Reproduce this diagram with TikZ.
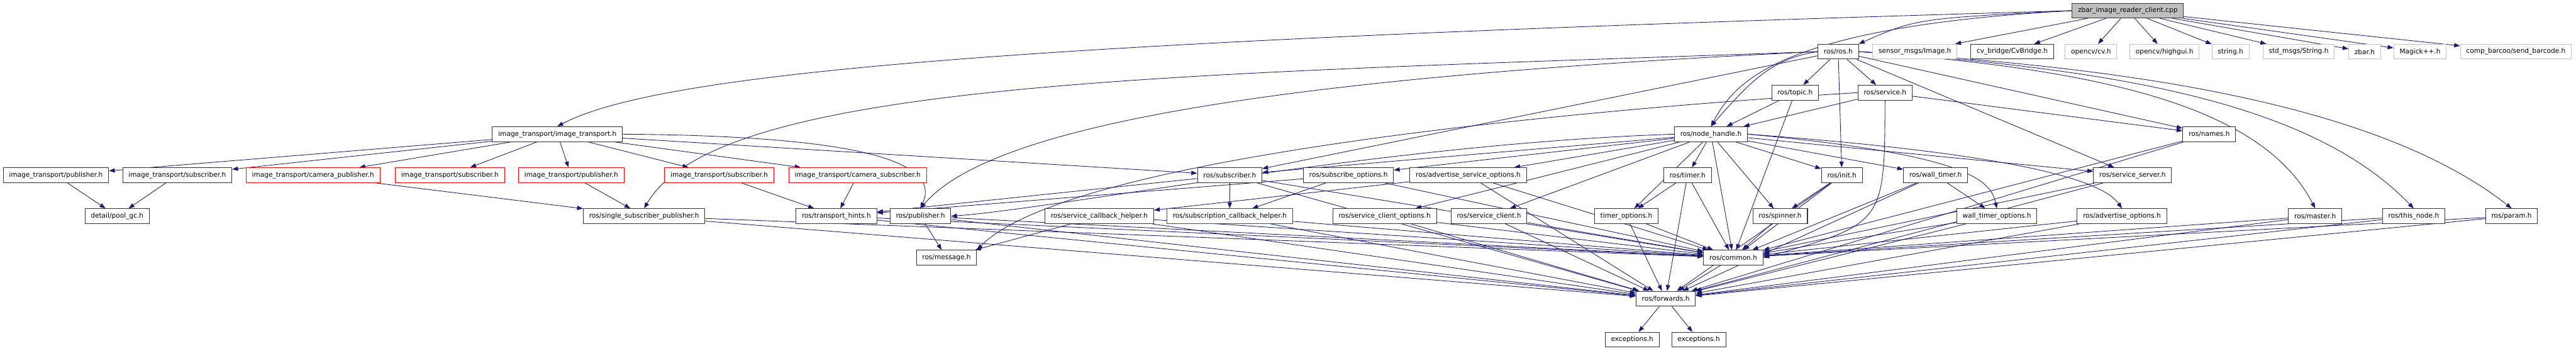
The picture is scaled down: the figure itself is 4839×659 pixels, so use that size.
\documentclass[tikz,border=0pt]{standalone}
\usepackage{fontspec}
\setmainfont{DejaVu Sans}
\usepackage{tikz}
\usetikzlibrary{arrows.meta}
\usetikzlibrary{backgrounds}
\definecolor{edgeblue}{HTML}{191970}
\definecolor{missinggray}{HTML}{BFBFBF}

\begin{document}
\begin{tikzpicture}[x=1pt, y=1pt,
            >={Triangle[length=11pt, width=8pt]},
            header/.style={rectangle, draw=black!80, line width=1.2pt, fill=white,
                           minimum height=28pt, inner xsep=11pt, inner ysep=0pt,
                           font=\fontsize{12.5}{15}\selectfont},
            truncated/.style={header, draw=red},
            missing/.style={header, draw=missinggray},
            current/.style={header, fill=missinggray},
            dep/.style={->, draw=edgeblue, line width=1pt},
        ]

        \useasboundingbox (0,0) rectangle (4839,-659);

        % The file itself
        \node[current] (cpp) at (3997,-20) {zbar\_image\_reader\_client.cpp};

        % Second row
        \node[header] (rosh) at (3453,-97) {ros/ros.h};
        \node[missing] (sensor) at (3597,-97) {sensor\_msgs/Image.h};
        \node[header] (cvbridge) at (3780,-97) {cv\_bridge/CvBridge.h};
        \node[missing] (cv) at (3928,-97) {opencv/cv.h};
        \node[missing] (highgui) at (4066,-97) {opencv/highgui.h};
        \node[missing] (stringh) at (4190,-97) {string.h};
        \node[missing] (stdstring) at (4318,-97) {std\_msgs/String.h};
        \node[missing] (zbarh) at (4442,-97) {zbar.h};
        \node[missing] (magick) at (4546,-97) {Magick++.h};
        \node[missing] (sendbc) at (4726,-97) {comp\_barcoo/send\_barcode.h};

        \node[header] (topic) at (3372,-174) {ros/topic.h};
        \node[header] (service) at (3541,-174) {ros/service.h};

        % Main headers
        \node[header] (ith) at (1047,-252) {image\_transport/image\_transport.h};
        \node[header] (nh) at (3214,-252) {ros/node\_handle.h};
        \node[header] (names) at (4150,-252) {ros/names.h};

        % Third row
        \node[header] (itpubA) at (105,-329) {image\_transport/publisher.h};
        \node[header] (itsubA) at (333,-329) {image\_transport/subscriber.h};
        \node[truncated] (itcampub) at (588,-329) {image\_transport/camera\_publisher.h};
        \node[truncated] (itsubB) at (845,-329) {image\_transport/subscriber.h};
        \node[truncated] (itpubB) at (1073,-329) {image\_transport/publisher.h};
        \node[truncated] (itsubC) at (1351,-329) {image\_transport/subscriber.h};
        \node[truncated] (itcamsub) at (1611,-329) {image\_transport/camera\_subscriber.h};
        \node[header] (subscriber) at (2310,-329) {ros/subscriber.h};
        \node[header] (subopts) at (2533,-329) {ros/subscribe\_options.h};
        \node[header] (advsrvopts) at (2758,-329) {ros/advertise\_service\_options.h};
        \node[header] (timer) at (3170,-329) {ros/timer.h};
        \node[header] (init) at (3460,-329) {ros/init.h};
        \node[header] (walltimer) at (3636,-329) {ros/wall\_timer.h};
        \node[header] (srvserver) at (4006,-329) {ros/service\_server.h};

        % Fourth row
        \node[header] (poolgc) at (220,-406) {detail/pool\_gc.h};
        \node[header] (ssp) at (1210,-406) {ros/single\_subscriber\_publisher.h};
        \node[header] (hints) at (1571,-406) {ros/transport\_hints.h};
        \node[header] (publisher) at (1729,-406) {ros/publisher.h};
        \node[header] (srvcb) at (2065,-406) {ros/service\_callback\_helper.h};
        \node[truncated] (subcb) at (2310,-406) {ros/subscription\_callback\_helper.h};
        \node[header] (srvclientopts) at (2601,-406) {ros/service\_client\_options.h};
        \node[header] (srvclient) at (2797,-406) {ros/service\_client.h};
        \node[header] (timeropts) at (3055,-406) {timer\_options.h};
        \node[header] (spinner) at (3344,-406) {ros/spinner.h};
        \node[header] (walltimeropts) at (3751,-406) {wall\_timer\_options.h};
        \node[header] (advopts) at (3986,-406) {ros/advertise\_options.h};
        \node[header] (master) at (4349,-406) {ros/master.h};
        \node[header] (thisnode) at (4534,-406) {ros/this\_node.h};
        \node[header] (param) at (4718,-406) {ros/param.h};

        % Bottom
        \node[header] (message) at (1778,-484) {ros/message.h};
        \node[header] (common) at (3256,-484) {ros/common.h};
        \node[header] (forwards) at (3129,-561) {ros/forwards.h};
        \node[header] (excA) at (3066,-638) {exceptions.h};
        \node[header] (excB) at (3191,-638) {exceptions.h};

        \begin{scope}[on background layer]
        \fill[white] (0,0) rectangle (4839,-659);

        % Includes of the file
        \draw[dep] (cpp.west) .. controls (2000,-75) and (1250,-130) .. (ith.north);
        \draw[dep] (cpp.west) .. controls (3600,-35) .. (rosh.north east);
        \draw[dep] (cpp.west) .. controls (3350,-50) and (3260,-150) .. (nh.north);
        \draw[dep] (cpp) -- (sensor);
        \draw[dep] (cpp) -- (cvbridge);
        \draw[dep] (cpp) -- (cv);
        \draw[dep] (cpp) -- (highgui);
        \draw[dep] (cpp) -- (stringh);
        \draw[dep] (cpp) -- (stdstring);
        \draw[dep] (cpp) -- (zbarh);
        \draw[dep] (cpp) -- (magick);
        \draw[dep] (cpp) -- (sendbc);

        % ros/ros.h
        \draw[dep] (rosh) -- (topic);
        \draw[dep] (rosh) -- (service);
        \draw[dep] (rosh) -- (init);
        \draw[dep] (rosh.west) .. controls (3330,-110) and (3290,-150) .. (nh.north);
        \draw[dep] (rosh) -- (names);
        \draw[dep] (rosh) -- (srvserver);
        \draw[dep] (rosh) -- (subscriber);
        \draw[dep] (rosh.east) .. controls (3950,-130) and (4250,-200) .. (master.north);
        \draw[dep] (rosh.east) .. controls (4000,-130) and (4350,-200) .. (thisnode.north);
        \draw[dep] (rosh.east) .. controls (4100,-130) and (4500,-220) .. (param.north);
        \draw[dep] (rosh.west) .. controls (2200,-140) and (1350,-150) .. (ssp.north);
        \draw[dep] (rosh.west) .. controls (2300,-150) and (1850,-250) .. (publisher.north);

        % ros/topic.h and ros/service.h
        \draw[dep] (topic) -- (nh);
        \draw[dep] (topic) -- (common);
        \draw[dep] (service) -- (nh);
        \draw[dep] (service) -- (names);
        \draw[dep] (service.south) .. controls (3540,-420) .. (common.east);
        \draw[dep] (service.west) .. controls (2900,-210) and (2000,-300) .. (message.north east);

        % image_transport/image_transport.h
        \draw[dep] (ith) -- (itpubA);
        \draw[dep] (ith) -- (itsubA);
        \draw[dep] (ith) -- (itcampub);
        \draw[dep] (ith) -- (itsubB);
        \draw[dep] (ith) -- (itpubB);
        \draw[dep] (ith) -- (itsubC);
        \draw[dep] (ith) -- (itcamsub);
        \draw[dep] (ith) -- (subscriber);
        \draw[dep] (ith.east) .. controls (1600,-255) and (1770,-300) .. (publisher.north);
        \draw[dep] (itpubA) -- (poolgc);
        \draw[dep] (itsubA) -- (poolgc);
        \draw[dep] (itcampub) -- (ssp);
        \draw[dep] (itpubB) -- (ssp);
        \draw[dep] (itsubC) -- (hints);
        \draw[dep] (itcamsub) -- (hints);

        % ros/node_handle.h
        \draw[dep] (nh) -- (subscriber);
        \draw[dep] (nh.west) .. controls (2600,-270) and (2000,-390) .. (publisher.east);
        \draw[dep] (nh) -- (subopts);
        \draw[dep] (nh) -- (advsrvopts);
        \draw[dep] (nh) -- (timer);
        \draw[dep] (nh) -- (init);
        \draw[dep] (nh) -- (walltimer);
        \draw[dep] (nh) -- (srvclientopts);
        \draw[dep] (nh) -- (srvclient);
        \draw[dep] (nh) -- (timeropts);
        \draw[dep] (nh) -- (spinner);
        \draw[dep] (nh) -- (srvserver);
        \draw[dep] (nh.east) .. controls (3700,-290) and (3740,-340) .. (walltimeropts.north);
        \draw[dep] (nh.east) .. controls (3800,-290) and (3950,-340) .. (advopts.north);
        \draw[dep] (nh) -- (common);

        % Third row
        \draw[dep] (subscriber) -- (subcb);
        \draw[dep] (subscriber) -- (hints);
        \draw[dep] (subscriber) -- (common);
        \draw[dep] (subscriber) -- (forwards);
        \draw[dep] (subopts) -- (hints);
        \draw[dep] (subopts) -- (subcb);
        \draw[dep] (subopts) -- (common);
        \draw[dep] (advsrvopts) -- (srvcb);
        \draw[dep] (advsrvopts) -- (common);
        \draw[dep] (advsrvopts) -- (forwards);
        \draw[dep] (timer) -- (timeropts);
        \draw[dep] (timer) -- (common);
        \draw[dep] (timer) -- (forwards);
        \draw[dep] (init) -- (spinner);
        \draw[dep] (init) -- (common);
        \draw[dep] (init) -- (forwards);
        \draw[dep] (walltimer) -- (walltimeropts);
        \draw[dep] (walltimer) -- (common);
        \draw[dep] (walltimer) -- (forwards);
        \draw[dep] (srvserver) -- (common);
        \draw[dep] (srvserver) -- (forwards);
        \draw[dep] (names) -- (common);
        \draw[dep] (names) -- (forwards);

        % Fourth row
        \draw[dep] (ssp) -- (common);
        \draw[dep] (ssp) -- (forwards);
        \draw[dep] (hints) -- (common);
        \draw[dep] (hints) -- (forwards);
        \draw[dep] (publisher) -- (message);
        \draw[dep] (publisher) -- (common);
        \draw[dep] (publisher) -- (forwards);
        \draw[dep] (srvcb) -- (message);
        \draw[dep] (srvcb) -- (common);
        \draw[dep] (srvcb) -- (forwards);
        \draw[dep] (subcb) -- (common);
        \draw[dep] (subcb) -- (forwards);
        \draw[dep] (srvclientopts) -- (common);
        \draw[dep] (srvclientopts) -- (forwards);
        \draw[dep] (srvclient) -- (common);
        \draw[dep] (srvclient) -- (forwards);
        \draw[dep] (timeropts) -- (common);
        \draw[dep] (timeropts) -- (forwards);
        \draw[dep] (spinner) -- (common);
        \draw[dep] (walltimeropts) -- (common);
        \draw[dep] (walltimeropts) -- (forwards);
        \draw[dep] (advopts) -- (common);
        \draw[dep] (advopts) -- (forwards);
        \draw[dep] (master) -- (common);
        \draw[dep] (master) -- (forwards);
        \draw[dep] (thisnode) -- (common);
        \draw[dep] (thisnode) -- (forwards);
        \draw[dep] (param) -- (common);
        \draw[dep] (param) -- (forwards);

        % Bottom
        \draw[dep] (common) -- (forwards);
        \draw[dep] (forwards) -- (excA);
        \draw[dep] (forwards) -- (excB);
        \end{scope}

        \end{tikzpicture}
\end{document}
